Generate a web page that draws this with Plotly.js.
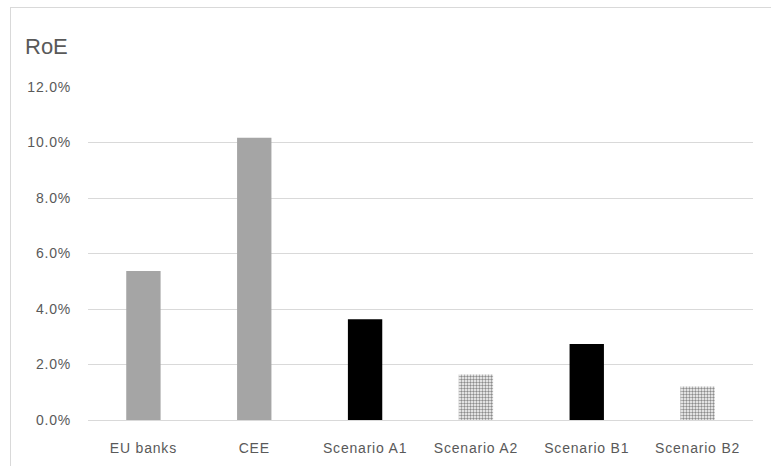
<!DOCTYPE html>
<html>
<head>
<meta charset="utf-8">
<script src="https://cdn.plot.ly/plotly-3.0.1.min.js"></script>
<style>
html,body{margin:0;padding:0;background:#fff;}
#wrap{position:relative;width:771px;height:466px;overflow:hidden;}
#chart{position:absolute;left:0;top:0;width:771px;height:466px;}
#frame{position:absolute;left:10px;top:7px;width:780px;height:480px;border:1px solid #d9d9d9;pointer-events:none;}
.xtick text{letter-spacing:0.8px;}
.ytick text{letter-spacing:0.8px;}
</style>
</head>
<body>
<div id="wrap"><div id="chart"></div><div id="frame"></div></div>
<script>
const categories = ["EU banks", "CEE", "Scenario A1", "Scenario A2", "Scenario B1", "Scenario B2"];
const roeValues = [5.37, 10.17, 3.63, 1.64, 2.74, 1.21];
const barColors = ["#a5a5a5", "#a5a5a5", "#000000", "#8c8c8c", "#000000", "#8c8c8c"];
const patternShapes = ["", "", "", ".", "", "."];
const yTicks = [0, 2, 4, 6, 8, 10, 12];

const trace = {
  type: "bar",
  x: categories,
  y: roeValues,
  width: 0.31,
  marker: {
    color: barColors,
    line: {width: 0},
    pattern: {
      shape: patternShapes,
      fgcolor: "#d8d8d8",
      bgcolor: "#8c8c8c",
      size: 3,
      solidity: 0.5
    }
  },
  hoverinfo: "x+y"
};

const layout = {
  width: 771, height: 466,
  margin: {l: 88, r: 18, t: 87, b: 46},
  paper_bgcolor: "#fff", plot_bgcolor: "#fff",
  showlegend: false,
  font: {family: "Liberation Sans, Arial, sans-serif", color: "#595959", size: 14},
  title: {
    text: "RoE",
    font: {size: 22, color: "#595959", family: "Liberation Sans, Arial, sans-serif"},
    xref: "container", yref: "container",
    x: 25/771, xanchor: "left",
    y: 1 - 46/466, yanchor: "middle"
  },
  xaxis: {
    type: "category",
    showgrid: false, zeroline: false, showline: false,
    ticks: "",
    ticklabelstandoff: 18,
    tickfont: {size: 14, color: "#595959"}
  },
  yaxis: {
    range: [0, 12],
    tickvals: yTicks,
    ticktext: yTicks.map(v => v.toFixed(1) + "%"),
    showgrid: true, gridcolor: "#d9d9d9", gridwidth: 1,
    zeroline: true, zerolinecolor: "#d9d9d9", zerolinewidth: 1,
    showline: false, ticks: "",
    ticklabelstandoff: 16,
    tickfont: {size: 14, color: "#595959"}
  }
};

Plotly.newPlot("chart", [trace], layout, {displayModeBar: false, staticPlot: true});
</script>
</body>
</html>
